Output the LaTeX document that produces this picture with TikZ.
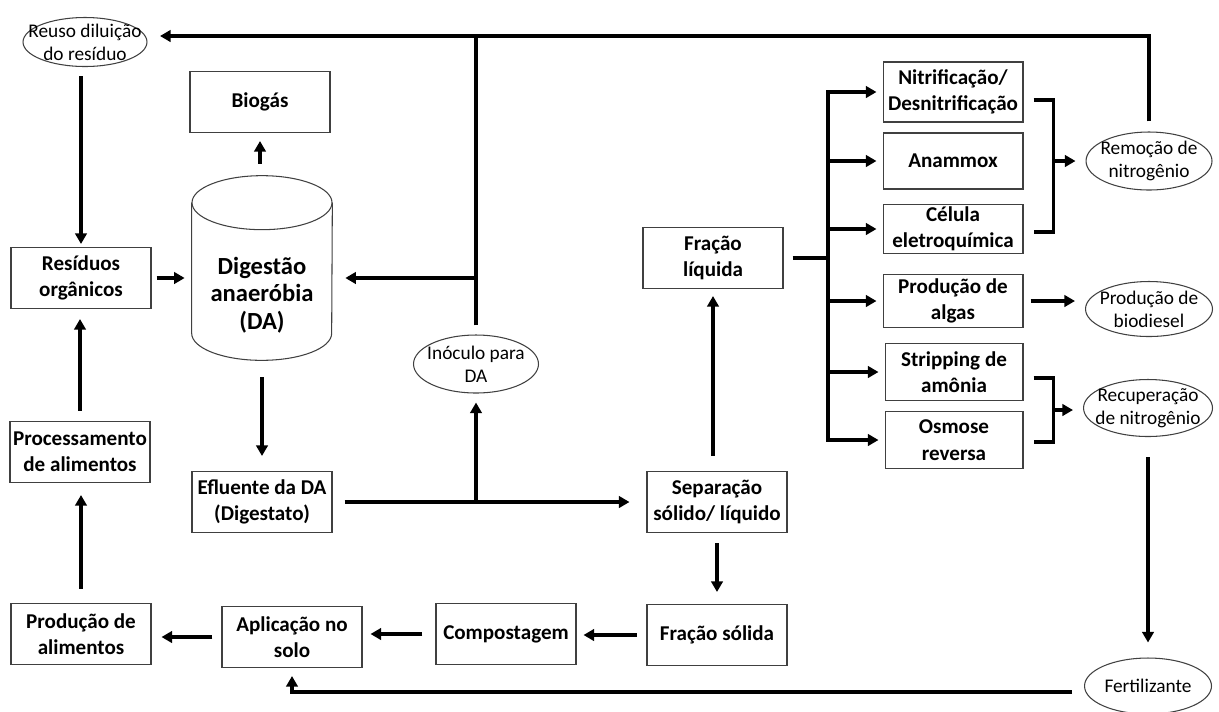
\documentclass[tikz,border=0pt]{standalone}
\usepackage{fontspec}
\setmainfont{Carlito}
\usetikzlibrary{positioning,arrows.meta,calc,shapes.geometric}

\begin{document}
\begin{tikzpicture}[x=0.02cm, y=-0.02cm, >={Triangle[length=6pt,width=6.5pt]},
  caixa/.style={draw=black!75, line width=0.6pt, font=\bfseries\fontsize{12}{15}\selectfont,
    align=center, inner sep=0pt, minimum width=2.8cm, minimum height=1.22cm},
  contorno/.style={draw=black!75, line width=0.6pt},
  elip/.style={ellipse, draw=black!75, line width=0.6pt, inner sep=0pt},
  elt/.style={font=\fontsize{11}{13}\selectfont, align=center, inner sep=0pt},
  dat/.style={font=\bfseries\fontsize{14}{15.6}\selectfont, align=center, inner sep=0pt},
  seta/.style={->, line width=2pt, shorten >=0.2cm, shorten <=0.2cm},
  linha/.style={line width=2pt}]
\useasboundingbox (0,0) rectangle (1219,711);
\newcommand{\elipse}[5]{\node[elip, minimum width=#3, minimum height=#4, label={[elt]center:{#5}}] (#1) at (#2) {};}

% elipses
\elipse{reuso}{85,42}{2.48cm}{0.98cm}{Reuso diluição\\do resíduo}
\elipse{inoc}{476,364}{2.5cm}{1.16cm}{Inóculo para\\DA}
\elipse{rem}{1149,161}{2.52cm}{1.16cm}{Remoção de\\nitrogênio}
\elipse{biod}{1149,309}{2.54cm}{1.1cm}{Produção de\\biodiesel}
\elipse{recu}{1148,408}{2.58cm}{1.14cm}{Recuperação\\de nitrogênio}
\elipse{fert}{1148,686}{2.54cm}{1.12cm}{Fertilizante}

% caixas
\node[caixa] (bio) at (260,102) {Biogás};
\node[caixa] (res) at (81,278) {Resíduos\\orgânicos};
\node[caixa] (proc) at (80,452) {Processamento\\de alimentos};
\node[caixa] (prod) at (81,634) {Produção de\\alimentos};
\node[caixa] (apl) at (292,637) {Aplicação no\\solo};
\node[caixa] (comp) at (506,634) {Compostagem};
\node[caixa] (sol) at (717,635) {Fração sólida};
\node[caixa] (sep) at (717,502) {Separação\\sólido/ líquido};
\node[caixa] (efl) at (262,502) {Efluente da DA\\(Digestato)};
\node[caixa] (liq) at (713,258) {Fração\\líquida};
\node[caixa, minimum height=1.2cm] (nit) at (953,92) {Nitrificação/\\Desnitrificação};
\node[caixa, minimum height=1.12cm] (ana) at (953,161) {Anammox};
\node[caixa, minimum height=0.98cm] (cel) at (953,229) {Célula\\eletroquímica};
\node[caixa, minimum height=1.06cm] (alg) at (953,301) {Produção de\\algas};
\node[caixa, minimum width=2.76cm, minimum height=1.14cm] (str) at (954,372) {Stripping de\\amônia};
\node[caixa, minimum width=2.76cm, minimum height=1.14cm] (osm) at (954,440) {Osmose\\reversa};

% digestor
\node[minimum width=2.8cm, minimum height=3.68cm, inner sep=0pt,
  label={[dat, yshift=-0.54cm]center:{Digestão\\anaeróbia\\(DA)}}] (da) at (262,268) {};
\draw[contorno] ($(da.north west)+(0,27)$) -- ($(da.south west)+(0,-27)$)
  arc[start angle=180, end angle=0, x radius=70, y radius=27] -- ($(da.north east)+(0,27)$);
\draw[contorno] ($(da.north)+(0,27)$) ellipse[x radius=70, y radius=27];

\coordinate (topo) at (160,36);
\coordinate (tr) at (828,92);
\coordinate (j1) at (inoc.north |- res.east);
\coordinate (j2) at (inoc.south |- efl.east);

% setas
\draw[seta, shorten <=0.18cm, shorten >=0.06cm] (res.north |- reuso.south) -- (res.north);
\draw[seta, shorten <=0.1cm, shorten >=0.14cm] (res.east) -- (res.east -| da.west);
\draw[seta] (proc.north) -- (proc.north |- res.south);
\draw[seta, shorten <=0.28cm, shorten >=0.24cm] (prod.north) -- (prod.north |- proc.south);
\draw[seta, shorten <=0.24cm, shorten >=0.16cm] (bio.south |- da.north) -- (bio.south);
\draw[seta, shorten <=0.34cm, shorten >=0.3cm] (da.south) -- (efl.north);
\draw[seta, shorten <=0.24cm, shorten >=0.34cm] (efl.east) -- (efl.east -| sep.west);
\draw[seta, shorten <=0pt, shorten >=0.18cm] (j2) -- (inoc.south);
\draw[linha, shorten <=0.18cm] (inoc.north) -- (inoc.north |- topo);
\draw[seta, shorten <=0pt, shorten >=0.26cm] (j1) -- (j1 -| da.east);
\draw[seta, shorten >=0pt] (rem.north) -- (rem.north |- topo) -- (topo);
\draw[seta, shorten <=0.3cm, shorten >=0.14cm] (liq.south |- sep.north) -- (liq.south);
\draw[seta, shorten >=0.24cm] (sep.south) -- (sol.north);
\draw[seta, shorten >=0.14cm] (sol.west) -- (sol.west -| comp.east);
\draw[seta, shorten <=0.26cm, shorten >=0.16cm] (comp.west) -- (comp.west -| apl.east);
\draw[seta, shorten <=0.18cm] (apl.west) -- (apl.west -| prod.east);
\draw[seta, shorten <=0.24cm, shorten >=0.16cm] ([yshift=-0.12cm]fert.west) -| (apl.south);
\draw[seta, shorten <=0.4cm, shorten >=0.3cm] (recu.south) -- (fert.north);

% ramos da fracao liquida
\draw[linha, shorten <=0.18cm] (liq.east) -- (liq.east -| tr);
\draw[seta, shorten <=0pt, shorten >=0.12cm] (tr |- osm.west) -- (tr |- nit.west) -- (nit.west);
\draw[seta, shorten <=0pt, shorten >=0.12cm] (tr |- nit.west) -- (tr |- osm.west) -- (osm.west);
\foreach \b in {ana,cel,alg,str}
  \draw[seta, shorten <=0pt, shorten >=0.12cm] (tr |- \b.west) -- (\b.west);

% chaves
\draw[linha] ($(nit.east)+(10,8)$) -| ($(cel.east)+(30,3)$) -- ($(cel.east)+(10,3)$);
\coordinate (ch1) at ($(ana.east)+(30,0)$);
\draw[seta, shorten <=0pt] (ch1) -- (rem.west);
\draw[linha] ($(str.east)+(10,6)$) -| ($(osm.east)+(30,2)$) -- ($(osm.east)+(10,2)$);
\coordinate (ch2) at ($(str.east)!0.5!(osm.east)+(30,4)$);
\draw[seta, shorten <=0pt] (ch2) -- (ch2 -| recu.west);
\draw[seta, shorten <=0.14cm] (alg.east) -- (alg.east -| biod.west);
\end{tikzpicture}
\end{document}
